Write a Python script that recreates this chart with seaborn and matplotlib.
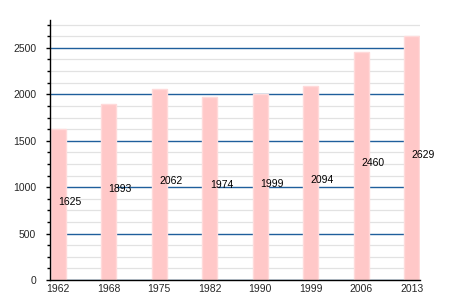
import matplotlib
matplotlib.use("Agg")
import matplotlib.pyplot as plt
import seaborn as sns
import pandas as pd
from matplotlib.ticker import MultipleLocator

years = ["1962", "1968", "1975", "1982", "1990", "1999", "2006", "2013"]
population = [1625, 1893, 2062, 1974, 1999, 2094, 2460, 2629]

sns.set_style("white")
plt.rcParams['font.family'] = ['Liberation Sans', 'DejaVu Sans']

df = pd.DataFrame({"year": years, "pop": population})

fig = plt.figure(figsize=(4.5, 3), dpi=100)
ax = fig.add_axes([50/450, 20/300, 370/450, 260/300])

# gridlines
ax.yaxis.set_major_locator(MultipleLocator(500))
ax.yaxis.set_minor_locator(MultipleLocator(125))
ax.set_axisbelow(True)
ax.grid(which="minor", axis="y", color="#e2e2e2", linewidth=0.9)
ax.grid(which="major", axis="y", color="#1f5f9c", linewidth=1.0)
ax.grid(which="major", axis="x", visible=False)

sns.barplot(data=df, x="year", y="pop", color="#ffc8c8", saturation=1,
            width=0.3, edgecolor="#ffdada", linewidth=1.0, ax=ax, zorder=2)

for i, v in enumerate(population):
    ax.text(i, v / 2, str(v), ha="left", va="baseline", fontsize=7.5,
            color="black", zorder=5)

ax.set_xlim(-0.16, 7.16)
ax.set_ylim(0, 2800)
ax.set_xlabel("")
ax.set_ylabel("")
for s in ["top", "right"]:
    ax.spines[s].set_visible(False)
for s in ["left", "bottom"]:
    ax.spines[s].set_color("black")
    ax.spines[s].set_linewidth(1.0)
ax.tick_params(axis="x", length=0, labelsize=7.5, pad=3)
ax.tick_params(axis="y", which="major", direction="out", length=3, width=1,
               color="black", left=True, labelsize=7.5, pad=7)
ax.tick_params(axis="y", which="minor", direction="out", length=2.5, width=1,
               color="black", left=True)

fig.savefig("out.png", dpi=100)
